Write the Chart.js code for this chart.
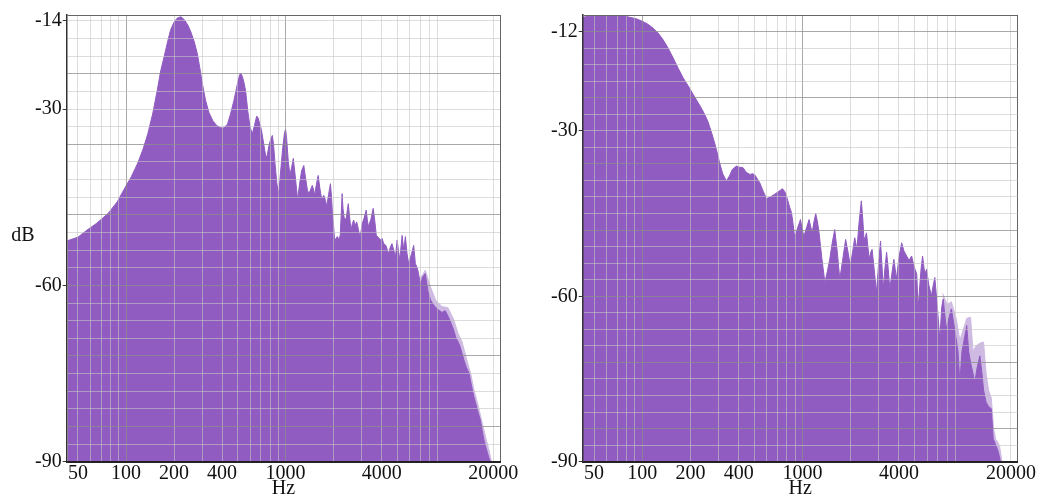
<!DOCTYPE html>
<html>
<head>
<meta charset="utf-8">
<script src="https://cdn.jsdelivr.net/npm/chart.js@4.4.1/dist/chart.umd.min.js"></script>
<style>
  html, body { margin: 0; padding: 0; background: #fff; }
  #wrap { position: relative; width: 1039px; height: 497px; overflow: hidden; }
  .panel { position: absolute; top: 0; height: 497px; }
  #panel-left { left: 0; width: 520px; }
  #panel-right { left: 520px; width: 519px; }
</style>
</head>
<body>
<div id="wrap">
  <div class="panel" id="panel-left"><canvas id="chart-left" width="520" height="497"></canvas></div>
  <div class="panel" id="panel-right"><canvas id="chart-right" width="519" height="497"></canvas></div>
</div>
<script>
// frequency axis (Hz), shared by both panels
const FREQ_MIN = 42.5;
const FREQ_MAX = 22050;
const X_GRID = [50, 60, 70, 80, 90, 100, 200, 300, 400, 500, 600, 700, 800, 900, 1000,
  2000, 3000, 4000, 5000, 6000, 7000, 8000, 9000, 20000];
const X_MAJOR = [100, 1000];
const X_LABELS = [50, 100, 200, 400, 1000, 4000, 20000];

// level axis (dB)
const DB_MIN = -90;
const DB_STEP = 3;
const LEFT_DB_MAX = -14;
const RIGHT_DB_MAX = -9;
const LEFT_Y_LABELS = [-14, -30, -60, -90];
const RIGHT_Y_LABELS = [-12, -30, -60, -90];
const LEFT_Y_MARKS = [-15, -30, -60, -90];
const RIGHT_Y_MARKS = [-12, -30, -60, -90];

// left spectrum
const LEFT_FREQ = [43, 50, 57, 65, 77, 88, 98, 108, 118, 128, 137, 147, 157, 165, 173, 182, 190, 200,
  210, 221, 232, 245, 255, 268, 280, 290, 301, 315, 331, 350, 370, 392, 410, 432, 450, 475, 500, 515,
  523, 535, 550, 562, 580, 598, 619, 638, 659, 672, 690, 705, 720, 740, 755, 768, 790, 815, 826, 840,
  860, 880, 900, 912, 935, 960, 985, 1000, 1015, 1040, 1065, 1090, 1117, 1140, 1170, 1190, 1220, 1260,
  1300, 1330, 1370, 1400, 1440, 1470, 1500, 1520, 1560, 1600, 1640, 1680, 1710, 1740, 1780, 1810, 1860,
  1910, 1940, 1965, 2000, 2030, 2070, 2110, 2150, 2200, 2230, 2260, 2290, 2340, 2400, 2470, 2510, 2570,
  2620, 2670, 2730, 2790, 2860, 2920, 2970, 3020, 3100, 3200, 3250, 3300, 3420, 3540, 3620, 3700, 3800,
  3930, 4020, 4120, 4250, 4420, 4530, 4640, 4760, 4880, 5000, 5100, 5190, 5370, 5500, 5630, 5760, 5900,
  6100, 6350, 6450, 6500, 6700, 7000, 7250, 7500, 7800, 8100, 8460, 8750, 9100, 9550, 10000, 10400,
  10800, 11300, 11700, 12050, 12400, 12750, 13100, 13600, 14100, 14450, 14800, 15150, 15500, 16000,
  16600, 17000, 17500, 18000, 18400, 18800, 19200];
const LEFT_DB = [-52.4, -51.8, -50.6, -49.5, -47.8, -45.8, -43.5, -41.5, -39.3, -36.8, -34.2, -30.8,
  -26.8, -23.5, -21.2, -18.6, -16.6, -15.2, -14.5, -14.3, -14.8, -15.8, -16.9, -18.6, -20.6, -23.0,
  -25.7, -28.5, -30.6, -32.0, -32.8, -33.2, -33.2, -32.6, -31.0, -28.5, -25.6, -24.2, -23.9, -24.4,
  -25.6, -27.0, -30.4, -33.0, -34.2, -32.8, -31.2, -31.5, -32.6, -33.5, -35.0, -37.0, -38.3, -37.8,
  -36.0, -34.8, -34.5, -36.0, -39.5, -42.5, -44.3, -43.5, -40.0, -36.5, -34.0, -33.5, -35.0, -39.0,
  -41.2, -40.0, -38.4, -40.5, -43.5, -45.5, -43.0, -40.5, -39.6, -41.5, -43.8, -44.4, -43.6, -43.0,
  -43.8, -44.7, -42.8, -41.3, -43.5, -45.2, -44.9, -44.7, -45.6, -46.6, -44.5, -42.7, -45.0, -47.8,
  -50.0, -52.6, -52.0, -51.7, -52.2, -51.5, -48.0, -44.4, -47.0, -48.9, -48.5, -46.1, -48.0, -50.6,
  -49.5, -48.9, -49.8, -49.2, -50.5, -51.7, -50.8, -49.5, -48.6, -47.2, -48.8, -50.0, -48.8, -46.9,
  -49.0, -51.5, -51.8, -52.3, -52.0, -52.9, -53.2, -54.6, -53.5, -52.9, -54.0, -55.1, -52.3, -54.2,
  -55.7, -51.5, -54.0, -51.7, -54.5, -56.3, -55.0, -53.2, -55.2, -56.3, -57.1, -59.7, -58.5, -58.0,
  -61.0, -62.5, -63.3, -63.8, -64.2, -64.6, -64.3, -65.2, -66.2, -67.6, -69.0, -69.6, -70.4, -71.6,
  -72.7, -74.0, -74.9, -76.4, -77.8, -79.0, -80.0, -81.4, -82.9, -84.5, -86.3, -87.6, -88.5, -89.4, -90];
// thin light fringe above the solid fill in the top octave
const LEFT_FRINGE_FREQ = [7000, 7500, 8100, 8750, 9550, 10400, 11300, 12050, 12750, 13600, 14450,
  15150, 16000, 17000, 18000, 18800, 19500];
const LEFT_FRINGE_DB = [-58.8, -57.4, -60.3, -62.6, -63.6, -63.8, -65.8, -68.2, -69.6, -72.5, -75.0,
  -77.8, -80.2, -83.2, -86.0, -88.0, -90];

// right spectrum
const RIGHT_FREQ = [42.2, 48, 54, 62, 69, 76, 83, 92, 101, 109, 117, 126, 135, 145, 156, 168, 180,
  194, 208, 220, 234, 245, 257, 270, 283, 294, 304, 318, 335, 350, 365, 387, 405, 426, 445, 469, 490,
  504, 520, 541, 570, 596, 630, 671, 710, 750, 775, 794, 813, 835, 854, 875, 895, 935, 972, 995, 1020,
  1060, 1100, 1130, 1150, 1180, 1210, 1240, 1270, 1320, 1380, 1430, 1480, 1530, 1590, 1650, 1710,
  1780, 1860, 1920, 1990, 2060, 2120, 2190, 2250, 2330, 2380, 2420, 2470, 2510, 2560, 2610, 2670,
  2720, 2800, 2900, 2990, 3070, 3130, 3190, 3270, 3350, 3430, 3510, 3610, 3720, 3790, 3860, 4000,
  4160, 4300, 4470, 4630, 4800, 4920, 5040, 5170, 5270, 5400, 5500, 5620, 5800, 5950, 6150, 6380,
  6550, 6700, 6950, 7200, 7400, 7560, 7900, 8200, 8500, 8800, 9100, 9350, 9600, 9900, 10200, 10600,
  10900, 11200, 11600, 11900, 12300, 12800, 13200, 13500, 14000, 14500, 15100, 15500, 16100, 16600,
  16900, 17200];
const RIGHT_DB = [-9.4, -9.2, -9.1, -9.0, -9.0, -9.1, -9.4, -9.7, -10.2, -10.7, -11.4, -12.3, -13.5,
  -15.0, -16.8, -18.7, -20.4, -21.9, -23.4, -24.6, -25.9, -27.0, -28.3, -30.2, -32.2, -34.0, -35.8,
  -37.8, -39.1, -38.2, -37.0, -36.4, -36.6, -36.7, -37.5, -37.9, -37.8, -38.0, -38.6, -39.4, -41.0,
  -42.3, -42.0, -41.5, -41.0, -40.5, -41.0, -41.8, -42.8, -44.0, -44.8, -47.0, -49.4, -47.5, -46.1,
  -47.8, -49.1, -47.6, -46.1, -47.6, -48.5, -46.5, -45.0, -46.5, -48.5, -53.0, -57.5, -55.5, -53.3,
  -50.5, -47.9, -52.0, -56.9, -53.5, -49.7, -51.8, -54.5, -51.8, -49.4, -51.5, -47.0, -42.7, -46.0,
  -49.7, -49.2, -48.5, -51.0, -53.3, -52.0, -51.5, -55.0, -59.3, -54.0, -50.0, -54.0, -58.7, -55.0,
  -52.0, -55.0, -58.7, -56.0, -53.3, -55.0, -56.9, -53.0, -50.3, -51.8, -52.7, -53.5, -52.7, -54.0,
  -55.1, -56.0, -62.3, -58.0, -55.0, -52.7, -56.0, -55.1, -58.0, -59.9, -58.0, -56.6, -62.0, -67.7,
  -62.0, -60.5, -65.9, -64.0, -62.3, -65.0, -67.7, -70.0, -75.6, -70.0, -68.0, -65.3, -70.0, -72.0,
  -74.0, -75.6, -73.0, -70.8, -74.0, -77.0, -79.2, -80.0, -80.4, -85.8, -87.0, -88.0, -88.9, -90];
const RIGHT_FRINGE_FREQ = [7500, 8000, 8500, 9100, 9600, 10100, 10600, 11200, 11600, 12100, 12800, 13500,
  14000, 14500, 15100, 15600, 16100, 16600, 17000, 17600];
const RIGHT_FRINGE_DB = [-59.5, -61.5, -61.0, -64.0, -68.0, -66.0, -64.0, -63.8, -70.0, -69.0, -68.5,
  -68.3, -74.0, -77.0, -78.5, -84.0, -86.0, -86.5, -87.2, -90];

const FILL = "rgb(144, 92, 193)";
const FRINGE = "rgb(206, 186, 226)";
const FONT = "'Liberation Serif', 'Times New Roman', serif";
const GRID_MINOR = "rgba(196, 196, 196, 0.6)";
const GRID_MAJOR = "rgba(140, 140, 140, 0.75)";
const EDGE = "#666";

function yTicks(max) {
  const ticks = [];
  for (let v = DB_MIN; v <= max; v += DB_STEP) ticks.push({ value: v });
  if (ticks[ticks.length - 1].value !== max) ticks.push({ value: max });
  return ticks;
}

function toPoints(freqs, dbs) {
  return freqs.map((f, i) => ({ x: f, y: dbs[i] }));
}

const axisTitle = {
  id: "axisTitle",
  afterDraw(chart, args, opts) {
    if (!opts.text) return;
    const { ctx } = chart;
    ctx.save();
    ctx.font = `20px ${FONT}`;
    ctx.fillStyle = "#111";
    ctx.textAlign = "center";
    ctx.textBaseline = "middle";
    ctx.fillText(opts.text, opts.x, opts.y);
    ctx.restore();
  },
};

function area(points, colour) {
  return {
    data: points,
    fill: "start",
    backgroundColor: colour,
    borderColor: colour,
    borderWidth: 1,
    pointRadius: 0,
    tension: 0,
  };
}

function makeChart(canvasId, cfg) {
  return new Chart(document.getElementById(canvasId), {
    type: "line",
    data: {
      // first dataset is drawn on top
      datasets: [area(cfg.main, FILL), area(cfg.fringe, FRINGE)],
    },
    plugins: [axisTitle],
    options: {
      responsive: false,
      animation: false,
      events: [],
      layout: { padding: { left: 0, right: cfg.padRight, top: 15, bottom: 0 } },
      plugins: {
        legend: { display: false },
        tooltip: { enabled: false },
        axisTitle: cfg.yTitle,
      },
      scales: {
        x: {
          type: "logarithmic",
          min: FREQ_MIN,
          max: FREQ_MAX,
          afterBuildTicks: (s) => { s.ticks = X_GRID.concat([FREQ_MAX]).map((v) => ({ value: v })); },
          afterFit: (s) => { s.height = 35.3; },
          grid: {
            z: 1,
            drawTicks: false,
            color: (c) => {
              const v = c.tick && c.tick.value;
              if (v === FREQ_MAX) return EDGE;
              return X_MAJOR.includes(v) ? GRID_MAJOR : GRID_MINOR;
            },
          },
          border: { display: true, color: "#222", width: 2, z: 2 },
          ticks: {
            autoSkip: false,
            maxRotation: 0,
            padding: 0,
            color: "#111",
            font: { family: FONT, size: 20 },
            callback: (v) => (X_LABELS.includes(v) ? String(v) : ""),
          },
          title: {
            display: true,
            text: "Hz",
            color: "#111",
            font: { family: FONT, size: 20, lineHeight: 1 },
            padding: { top: 0, bottom: -1.5 },
          },
        },
        y: {
          min: DB_MIN,
          max: cfg.yMax,
          afterBuildTicks: (s) => { s.ticks = yTicks(cfg.yMax); },
          afterFit: (s) => { s.width = cfg.yWidth; },
          grid: {
            z: 1,
            tickLength: 4,
            color: (c) => {
              const v = c.tick && c.tick.value;
              if (v === cfg.yMax) return EDGE;
              return v % 12 === 0 ? GRID_MAJOR : GRID_MINOR;
            },
            tickColor: (c) => (cfg.marks.includes(c.tick && c.tick.value) ? "#333" : "rgba(0,0,0,0)"),
          },
          border: { display: true, color: "#333", width: 1.5, z: 2 },
          ticks: {
            autoSkip: false,
            padding: 1,
            color: "#111",
            font: (c) => ({
              family: FONT,
              size: 20,
              lineHeight: c.tick && c.tick.value === cfg.shiftedLabel ? 0.55 : 1.2,
            }),
            callback: (v) => {
              if (!cfg.labels.includes(v)) return "";
              return v === cfg.shiftedLabel ? ["", String(v)] : String(v);
            },
          },
        },
      },
    },
  });
}

makeChart("chart-left", {
  main: toPoints(LEFT_FREQ, LEFT_DB),
  fringe: toPoints(LEFT_FRINGE_FREQ, LEFT_FRINGE_DB),
  yMax: LEFT_DB_MAX,
  labels: LEFT_Y_LABELS,
  marks: LEFT_Y_MARKS,
  shiftedLabel: -14,
  yWidth: 66.7,
  padRight: 20,
  yTitle: { text: "dB", x: 23, y: 236 },
});

makeChart("chart-right", {
  main: toPoints(RIGHT_FREQ, RIGHT_DB),
  fringe: toPoints(RIGHT_FRINGE_FREQ, RIGHT_FRINGE_DB),
  yMax: RIGHT_DB_MAX,
  labels: RIGHT_Y_LABELS,
  marks: RIGHT_Y_MARKS,
  shiftedLabel: null,
  yWidth: 62.7,
  padRight: 21.3,
  yTitle: {},
});
</script>
</body>
</html>
